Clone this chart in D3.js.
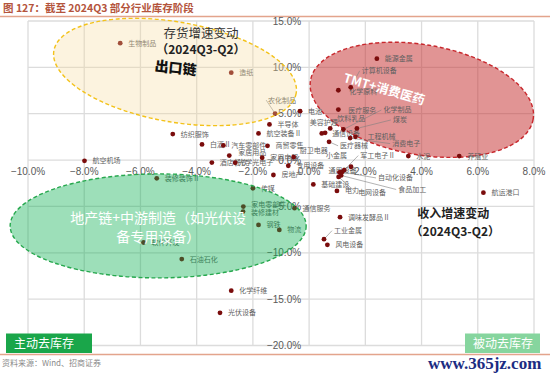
<!DOCTYPE html>
<html>
<head>
<meta charset="utf-8">
<script src="https://cdn.jsdelivr.net/npm/d3@7/dist/d3.min.js"></script>
<style>
body { margin: 0; background: #fff; }
svg { display: block; font-family: "Noto Sans CJK SC", "Liberation Sans", sans-serif; }
</style>
</head>
<body>
<svg id="chart" width="550" height="373"></svg>
<script>
// 行业名称 / 收入增速变动(x, %) / 存货增速变动(y, %)
const industries = ['生物制品','造纸','农化制品','电池','半导体','航空装备Ⅱ','纺织服饰','白酒Ⅱ','汽车零部件','商贸零售',
  '家居用品','酒店餐饮','光学光电子','家用电器','厨卫电器','专用设备','房地产','航空机场','装修装饰Ⅱ','传媒',
  '装修建材','家电零部件','钢铁','物流','通信服务','软件开发','石油石化','化学纤维','光伏设备','基础建设',
  '电力','调味发酵品Ⅱ','工业金属','风电设备','通用设备','自动化设备','食品加工','电网设备','小金属','军工电子Ⅱ',
  '水泥','养殖业','航运港口','能源金属','计算机设备','化学原料','医疗服务','美容护理','通信设备','饮料乳品',
  '医疗器械','化学制品','煤炭','工程机械','消费电子'];
const revenueChg = [-6.72,-2.77,-1.21,-0.32,-1.41,-1.80,-4.85,-3.81,-3.05,-1.48,
  -2.84,-3.46,-2.63,-1.67,-0.55,-0.74,-1.27,-7.99,-5.42,-2.00,
  -2.35,-2.34,-1.80,-1.06,-0.52,-5.89,-4.53,-2.77,-3.17,0.15,
  0.99,1.10,0.53,0.65,1.08,1.17,1.14,1.05,1.49,1.25,
  3.53,5.34,6.20,2.41,1.48,1.04,1.04,0.45,0.57,0.75,
  0.71,1.22,1.70,1.65,1.46];
const inventoryChg = [12.61,9.43,5.02,5.27,3.84,2.87,2.80,1.69,1.58,1.54,
  0.48,-0.27,-0.29,0.25,0.32,-0.61,-1.61,-0.08,-1.97,-3.04,
  -5.56,-5.02,-6.99,-7.53,-5.19,-8.89,-10.68,-14.09,-16.48,-2.63,
  -3.33,-6.16,-8.53,-9.14,-1.33,-1.28,-1.66,-1.82,-0.72,-1.08,
  0.43,0.43,-3.52,10.94,7.85,7.53,5.45,2.87,2.94,3.41,
  1.97,3.30,3.41,2.51,2.37];
const xTicks = [-10,-8,-6,-4,-2,0,2,4,6,8];
const yTicks = [-20,-15,-10,-5,0,5,10,15];

// 标签位置微调（像素）
const labelAt = {
  '农化制品': {dx:-7, dy:-11, lead:true},
  '家居用品': {dx:9, dy:-1},
  '美容护理': {dx:-12, dy:-8},
  '饮料乳品': {dx:7, dy:-7, lead:true},
  '通信设备': {dx:7, dy:3.5},
  '医疗器械': {dx:11, dy:6.5, lead:true},
  '化学制品': {dx:40, dy:-17, lead:true},
  '煤炭': {dx:36, dy:-6, lead:true},
  '工程机械': {dx:12, dy:2},
  '消费电子': {dx:42, dy:8, lead:true},
  '计算机设备': {dx:11, dy:-14, lead:true},
  '化学原料': {dx:11, dy:4},
  '医疗服务': {dx:10, dy:3},
  '小金属': {dx:-4, dy:-8.5, anchor:'end'},
  '军工电子Ⅱ': {dx:16, dy:-12, lead:true},
  '通用设备': {dx:-11, dy:1},
  '自动化设备': {dx:36, dy:8.5, lead:true},
  '食品加工': {dx:57, dy:16.5, lead:true},
  '电网设备': {dx:19.5, dy:18, lead:true},
  '工业金属': {dx:10, dy:-6, lead:true},
  '光学光电子': {dx:3, dy:2.5},
  '家电零部件': {dx:8, dy:0},
  '装修建材': {dx:8, dy:3},
  '厨卫电器': {dx:6, dy:-4}
};

const svg = d3.select('#chart');
const x = d3.scaleLinear().domain([-10, 8]).range([28, 534]);
const y = d3.scaleLinear().domain([-20, 15]).range([345.5, 21]);

// 标题
svg.append('text').attr('x', 3).attr('y', 12)
  .attr('font-size', 10.5).attr('font-weight', 700).attr('fill', '#b4543c')
  .text('图 127：截至 2024Q3 部分行业库存阶段');
svg.append('line').attr('x1', 0).attr('x2', 550).attr('y1', 16.5).attr('y2', 16.5)
  .attr('stroke', '#e3a48c').attr('stroke-width', 1.5);

// 网格
const grid = svg.append('g');
grid.selectAll('.vx').data(xTicks).join('line')
  .attr('x1', d => x(d)).attr('x2', d => x(d)).attr('y1', y(15)).attr('y2', y(-20))
  .attr('stroke', '#dcdcdc').attr('stroke-width', 1.3);
grid.selectAll('.hy').data(yTicks).join('line')
  .attr('y1', d => y(d)).attr('y2', d => y(d)).attr('x1', x(-10)).attr('x2', x(8))
  .attr('stroke', '#dcdcdc').attr('stroke-width', 1.3);

// 红色椭圆（TMT+消费医药）在散点下方
const ell = (g, cx, cy, rx, ry, rot, fill, op, stroke) => g.append('ellipse')
  .attr('cx', 0).attr('cy', 0).attr('rx', rx).attr('ry', ry)
  .attr('transform', `translate(${x(cx)},${y(cy)}) rotate(${rot})`)
  .attr('fill', fill).attr('fill-opacity', op)
  .attr('stroke', stroke).attr('stroke-width', 1.4).attr('stroke-dasharray', '4,2.5');

ell(svg, 4.01, 6.5, 113, 55, 10, '#c42a2a', 0.5, '#c8282d');

// 坐标标签
svg.append('g').selectAll('text').data(xTicks).join('text')
  .attr('x', d => x(d)).attr('y', y(0) + 15).attr('text-anchor', 'middle')
  .attr('font-family', 'Liberation Sans, Arial, sans-serif').attr('font-size', 10).attr('fill', '#595959')
  .text(d => d3.format('.1f')(d) + '%');
svg.append('g').selectAll('text').data(yTicks).join('text')
  .attr('x', x(0) - 8).attr('y', d => y(d) + 3.5).attr('text-anchor', 'end')
  .attr('font-family', 'Liberation Sans, Arial, sans-serif').attr('font-size', 10).attr('fill', '#595959')
  .text(d => d3.format('.1f')(d) + '%');

// 散点
const pts = industries.map((n, i) => ({name: n, px: x(revenueChg[i]), py: y(inventoryChg[i])}));
const lab = svg.append('g');
pts.forEach(p => {
  const o = Object.assign({dx: 8, dy: 2.5, anchor: 'start'}, labelAt[p.name] || {});
  if (o.lead) {
    lab.append('line').attr('x1', p.px).attr('y1', p.py)
      .attr('x2', p.px + o.dx - 2).attr('y2', p.py + o.dy - 2.5)
      .attr('stroke', '#7f7f7f').attr('stroke-width', 0.6);
  }
  lab.append('text').attr('x', p.px + o.dx).attr('y', p.py + o.dy)
    .attr('text-anchor', o.anchor).attr('font-size', 7).attr('fill', '#5f5f5f')
    .text(p.name);
});
svg.append('g').selectAll('circle').data(pts).join('circle')
  .attr('cx', d => d.px).attr('cy', d => d.py).attr('r', 2.4).attr('fill', '#7a0c0c');

// 黄色、绿色椭圆覆盖
ell(svg, -4.77, 9.5, 123, 50, 10, '#f7d99a', 0.32, '#f3c21a');
ell(svg, -5.37, -7.1, 148, 52, 0, '#0aaf50', 0.4, '#27a84e');

// 椭圆文字
const note = (tx, ty, txt, size, weight, fill, anchor = 'middle') => svg.append('text')
  .attr('x', tx).attr('y', ty).attr('text-anchor', anchor)
  .attr('font-size', size).attr('font-weight', weight).attr('fill', fill).text(txt);

note(x(-3.85), y(13.2), '存货增速变动', 12.5, 400, '#333');
note(x(-3.85), y(11.4), '（2024Q3-Q2）', 12, 700, '#222');
svg.append('text').attr('transform', `translate(${x(-4.77)},${y(9.4)}) rotate(6)`)
  .attr('text-anchor', 'middle').attr('font-size', 14).attr('font-weight', 900).attr('fill', '#111')
  .text('出口链');
svg.append('text').attr('transform', `translate(${x(2.63)},${y(7.2)}) rotate(16)`)
  .attr('text-anchor', 'middle').attr('font-size', 12.5).attr('font-weight', 700).attr('fill', '#fff')
  .text('TMT+消费医药');
note(x(-5.37), y(-6.75), '地产链+中游制造（如光伏设', 14, 400, '#fff');
note(x(-5.37), y(-8.8), '备专用设备）', 14, 400, '#fff');
note(x(5.13), y(-6.3), '收入增速变动', 12, 700, '#222');
note(x(5.2), y(-8.2), '（2024Q3-Q2）', 12, 700, '#222');

// 底部
svg.append('rect').attr('x', 6).attr('y', 333.5).attr('width', 86).attr('height', 19.5).attr('fill', '#1aa64a');
svg.append('text').attr('x', 14).attr('y', 348).attr('font-size', 12).attr('fill', '#fff').text('主动去库存');
svg.append('rect').attr('x', 465).attr('y', 333.5).attr('width', 75).attr('height', 19.5).attr('fill', '#86d59e');
svg.append('text').attr('x', 473).attr('y', 348).attr('font-size', 12).attr('fill', '#fff').text('被动去库存');
svg.append('line').attr('x1', 0).attr('x2', 550).attr('y1', 354.5).attr('y2', 354.5)
  .attr('stroke', '#e3a48c').attr('stroke-width', 1.5);
svg.append('text').attr('x', 2).attr('y', 366).attr('font-size', 8).attr('fill', '#8a8a8a')
  .text('资料来源：Wind、招商证券');
svg.append('text').attr('x', 428).attr('y', 369).attr('font-family', 'Liberation Serif, serif')
  .attr('font-size', 17).attr('font-weight', 700).attr('fill', '#1b2c82').text('www.365jz.com');
</script>
</body>
</html>
